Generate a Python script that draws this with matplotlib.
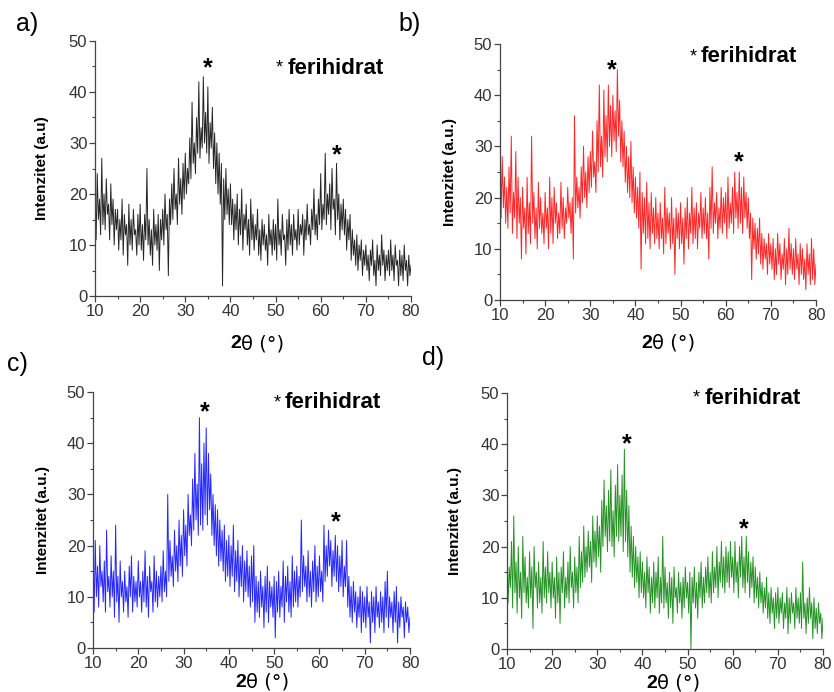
import numpy as np
import matplotlib
matplotlib.use('Agg')
import matplotlib.pyplot as plt

plt.rcParams['font.family'] = ['Liberation Sans', 'DejaVu Sans']

# 2theta scan grid (deg), one reading every 0.25 deg
two_theta = np.arange(10, 80.001, 0.25)

# intensities (a.u.), one row per 5 deg
int_a = [21, 11, 24, 15, 19, 12, 27, 14, 20, 13, 23, 16, 18, 11, 22, 14, 19, 10, 17, 13,
         17, 9, 15, 11, 19, 8, 16, 12, 14, 6, 18, 10, 15, 9, 17, 12, 13, 8, 16, 10,
         18, 9, 14, 7, 16, 11, 25, 10, 15, 8, 13, 6, 17, 10, 14, 9, 16, 5, 15, 11,
         17, 10, 20, 13, 16, 4, 19, 14, 22, 15, 25, 17, 20, 14, 27, 18, 23, 16, 26, 19,
         28, 20, 25, 22, 31, 23, 38, 26, 30, 24, 35, 28, 42, 27, 33, 29, 43, 30, 36, 28,
         41, 26, 34, 29, 37, 25, 32, 22, 30, 20, 28, 18, 26, 2, 23, 15, 25, 16, 21, 14,
         22, 14, 19, 11, 18, 13, 20, 10, 17, 12, 21, 9, 16, 13, 18, 10, 15, 8, 19, 11,
         16, 9, 14, 11, 17, 8, 13, 7, 15, 10, 14, 9, 12, 6, 16, 10, 13, 8, 15, 9,
         14, 7, 19, 10, 13, 8, 16, 11, 12, 6, 15, 9, 17, 10, 14, 8, 16, 11, 13, 9,
         17, 10, 14, 12, 16, 8, 15, 11, 18, 12, 14, 10, 17, 13, 21, 12, 16, 11, 19, 14,
         24, 13, 18, 15, 28, 14, 20, 16, 22, 13, 25, 17, 19, 12, 26, 15, 20, 11, 18, 13,
         19, 12, 17, 9, 15, 11, 16, 7, 13, 8, 11, 6, 12, 5, 10, 7, 11, 4, 9, 6,
         10, 5, 8, 3, 9, 6, 11, 4, 7, 2, 10, 5, 8, 4, 12, 6, 9, 3, 8, 5,
         9, 4, 11, 5, 8, 3, 10, 6, 7, 2, 9, 4, 8, 3, 10, 5, 7, 2, 8, 4,
         6]
int_b = [36, 16, 28, 18, 24, 15, 22, 14, 26, 17, 32, 13, 21, 16, 29, 12, 24, 15, 20, 8,
         22, 14, 18, 9, 24, 13, 19, 11, 32, 15, 21, 12, 18, 10, 23, 14, 20, 13, 17, 11,
         21, 14, 18, 10, 24, 13, 20, 11, 22, 15, 19, 12, 17, 13, 23, 14, 20, 12, 18, 15,
         22, 16, 19, 13, 20, 8, 36, 17, 24, 18, 22, 16, 26, 19, 30, 20, 25, 18, 28, 21,
         29, 22, 33, 24, 27, 21, 35, 25, 42, 26, 32, 24, 41, 28, 36, 27, 42, 30, 38, 28,
         40, 31, 37, 29, 45, 32, 39, 27, 35, 26, 33, 23, 30, 21, 28, 20, 31, 19, 26, 17,
         24, 16, 22, 14, 25, 6, 21, 13, 20, 11, 23, 12, 19, 10, 21, 13, 18, 11, 20, 12,
         17, 10, 19, 12, 16, 9, 22, 11, 18, 13, 17, 10, 20, 11, 16, 5, 18, 12, 17, 10,
         19, 11, 16, 7, 18, 12, 20, 10, 17, 13, 22, 11, 18, 12, 19, 10, 17, 14, 21, 12,
         18, 13, 20, 12, 17, 8, 22, 14, 26, 13, 19, 15, 21, 12, 18, 14, 22, 13, 20, 15,
         21, 12, 24, 14, 19, 15, 22, 13, 25, 16, 21, 14, 25, 15, 22, 13, 24, 16, 21, 14,
         20, 12, 17, 4, 16, 10, 15, 8, 14, 9, 16, 7, 13, 6, 12, 8, 11, 5, 13, 7,
         11, 6, 12, 4, 10, 5, 13, 7, 11, 4, 9, 6, 12, 3, 10, 5, 14, 6, 11, 5,
         10, 4, 12, 6, 9, 3, 11, 5, 10, 4, 8, 2, 11, 5, 9, 3, 12, 4, 10, 3,
         7]
int_c = [19, 7, 21, 10, 16, 8, 20, 12, 15, 9, 17, 7, 23, 11, 14, 8, 18, 10, 15, 6,
         24, 9, 14, 5, 17, 10, 13, 7, 15, 9, 12, 6, 16, 10, 18, 7, 14, 9, 13, 8,
         17, 10, 13, 7, 15, 9, 19, 8, 14, 6, 16, 11, 13, 7, 18, 9, 15, 8, 14, 10,
         16, 9, 19, 11, 15, 10, 30, 13, 21, 14, 18, 12, 23, 15, 20, 13, 25, 16, 22, 14,
         27, 18, 24, 16, 30, 22, 26, 20, 33, 23, 38, 25, 32, 22, 45, 24, 36, 23, 40, 26,
         43, 24, 38, 27, 34, 22, 30, 20, 28, 18, 27, 16, 25, 17, 23, 15, 24, 13, 21, 14,
         22, 12, 20, 14, 24, 11, 19, 13, 21, 10, 18, 12, 20, 9, 17, 11, 19, 10, 16, 8,
         18, 9, 20, 5, 14, 7, 13, 6, 15, 8, 12, 4, 14, 7, 16, 5, 13, 8, 12, 6,
         14, 2, 13, 7, 15, 6, 12, 8, 17, 5, 14, 9, 16, 7, 13, 6, 18, 8, 15, 9,
         16, 8, 14, 10, 25, 11, 18, 12, 16, 9, 19, 10, 15, 8, 17, 11, 20, 9, 16, 10,
         18, 11, 15, 9, 24, 13, 20, 14, 23, 16, 21, 12, 19, 14, 22, 13, 20, 11, 18, 12,
         21, 10, 16, 12, 21, 8, 14, 6, 12, 5, 13, 7, 11, 4, 10, 6, 12, 3, 11, 5,
         10, 4, 12, 6, 9, 1, 11, 5, 10, 3, 12, 6, 9, 4, 11, 5, 10, 3, 13, 6,
         15, 4, 10, 6, 9, 3, 11, 5, 12, 1, 9, 4, 10, 6, 8, 2, 9, 5, 8, 3,
         6]
int_d = [19, 9, 16, 12, 21, 8, 26, 11, 17, 7, 20, 10, 15, 6, 22, 11, 18, 9, 14, 8,
         19, 10, 16, 4, 20, 12, 15, 8, 17, 9, 14, 7, 21, 10, 16, 9, 19, 11, 15, 8,
         17, 10, 14, 6, 18, 9, 15, 5, 16, 11, 19, 8, 14, 10, 17, 9, 20, 12, 15, 8,
         18, 11, 16, 9, 22, 12, 19, 13, 24, 14, 20, 15, 23, 16, 21, 13, 26, 17, 23, 16,
         26, 18, 24, 15, 29, 20, 33, 22, 28, 19, 31, 21, 35, 20, 27, 18, 32, 22, 36, 21,
         30, 22, 34, 19, 39, 21, 31, 18, 28, 15, 24, 14, 22, 12, 20, 13, 18, 10, 19, 11,
         17, 10, 15, 8, 18, 11, 16, 7, 14, 9, 17, 8, 15, 10, 18, 7, 14, 9, 22, 8,
         16, 9, 13, 6, 15, 8, 14, 5, 16, 10, 12, 7, 15, 9, 13, 6, 14, 8, 16, 10,
         13, 7, 15, 0, 14, 9, 16, 8, 13, 6, 15, 10, 17, 8, 14, 9, 16, 11, 18, 10,
         15, 9, 19, 11, 16, 12, 20, 10, 17, 13, 21, 12, 18, 11, 20, 13, 19, 12, 21, 14,
         18, 11, 21, 13, 17, 10, 20, 14, 22, 12, 18, 11, 22, 13, 19, 10, 17, 12, 18, 9,
         16, 10, 14, 8, 15, 9, 13, 7, 12, 8, 14, 6, 11, 5, 12, 7, 10, 4, 11, 6,
         12, 5, 10, 7, 11, 4, 9, 6, 12, 3, 10, 5, 11, 7, 9, 4, 12, 6, 10, 5,
         11, 4, 17, 6, 9, 3, 10, 5, 12, 6, 9, 2, 10, 4, 8, 3, 9, 5, 7, 2,
         6]

# panel settings: letter, data, colour, y label, peak stars, legend position
panels = [
    ('a)', int_a, 'black', 'Intenzitet (a.u)', [(35.0, 44.7), (63.6, 27.5)], (50.8, 44.7)),
    ('b)', int_b, 'red', 'Intenzitet (a.u.)', [(34.8, 44.9), (62.9, 26.8)], (52.7, 47.5)),
    ('c)', int_c, 'blue', 'Intenzitet (a.u.)', [(34.7, 46.1), (63.7, 24.6)], (50.6, 47.9)),
    ('d)', int_d, 'green', 'Intenzitet (a.u.)', [(36.6, 40.0), (62.5, 23.4)], (51.9, 49.0)),
]

W, H = 834, 692
# axes boxes in pixels: left, right, top, bottom
boxes = [(95, 411, 41, 296), (500, 816, 44, 300), (93, 410, 392, 648), (507, 823, 393, 649)]
letter_pos = [(16, 24), (398, 24), (7, 364), (422, 358)]
ylab_x = [-0.146, -0.136, -0.136, -0.142]
xlab_pos = [(0.462, -0.188), (0.481, -0.168), (0.483, -0.134), (0.475, -0.134)]

fig = plt.figure(figsize=(W / 100, H / 100), dpi=100)

for i, (letter, vals, col, ylab, stars, leg) in enumerate(panels):
    l, r, t, b = boxes[i]
    ax = fig.add_axes([l / W, 1 - b / H, (r - l) / W, (b - t) / H])
    ax.plot(two_theta, vals, color=col, linewidth=0.7, alpha=0.85)
    ax.set_xlim(10, 80)
    ax.set_ylim(0, 50)
    ax.set_xticks(range(10, 81, 10))
    ax.set_yticks(range(0, 51, 10))
    ax.set_xticks(range(15, 80, 10), minor=True)
    ax.set_yticks(range(5, 50, 10), minor=True)
    for s in ['top', 'right']:
        ax.spines[s].set_visible(False)
    for s in ['left', 'bottom']:
        ax.spines[s].set_color('#444444')
        ax.spines[s].set_linewidth(0.9)
    ax.tick_params(which='major', direction='out', length=4, width=0.9,
                   colors='#444444', labelsize=12, labelcolor='#333333', pad=1.5)
    ax.tick_params(which='minor', direction='out', length=2.5, width=0.8, colors='#444444')

    ax.set_ylabel(ylab, fontsize=11, fontweight='bold')
    ax.yaxis.set_label_coords(ylab_x[i], 0.5)

    # x label: bold "2" followed by regular theta
    lx, ly = xlab_pos[i]
    ax.text(lx, ly, '2', transform=ax.transAxes, ha='right', va='center',
            fontsize=14, fontweight='bold')
    ax.text(lx, ly, 'θ (°)', transform=ax.transAxes, ha='left', va='center',
            fontsize=14, family=['DejaVu Sans'])

    for sx, sy in stars:
        ax.text(sx, sy, '*', ha='center', va='center', fontsize=18, fontweight='bold')

    ax.text(leg[0], leg[1], '*', ha='center', va='center', fontsize=13)
    ax.text(leg[0] + 1.8, leg[1], 'ferihidrat', ha='left', va='center',
            fontsize=16, fontweight='bold')

    fig.text(letter_pos[i][0] / W, 1 - letter_pos[i][1] / H, letter,
             ha='left', va='center', fontsize=18)

fig.savefig('out.png', dpi=100)
